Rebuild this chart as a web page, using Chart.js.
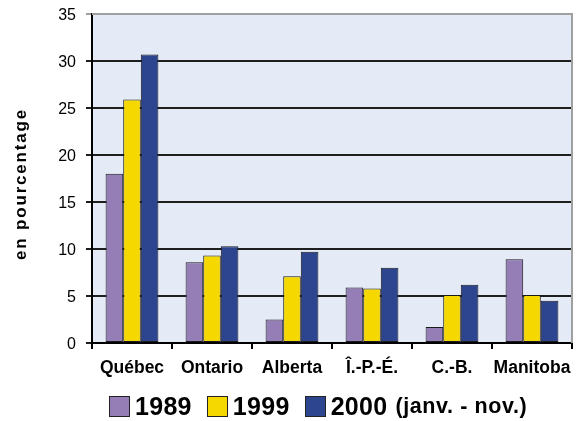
<!DOCTYPE html>
<html lang="fr">
<head>
<meta charset="utf-8">
<script src="https://cdn.jsdelivr.net/npm/chart.js@4"></script>
<style>
  html, body { margin: 0; padding: 0; background: #fff; }
  #wrap { position: relative; width: 579px; height: 421px; }
  #chart { position: absolute; left: 0; top: 0; }
  #legend {
    position: absolute; left: 109px; top: 392px; height: 28px;
    display: flex; align-items: center;
    font-family: "Liberation Sans", Arial, sans-serif; font-weight: bold; color: #000;
  }
  .item { display: flex; align-items: center; margin-right: 15px; }
  .box { width: 21px; height: 21px; box-sizing: border-box; border: 1px solid #222; margin-right: 5px; }
  .yr { font-size: 25px; line-height: 28px; letter-spacing: 0.3px; }
  .note { font-size: 21.5px; line-height: 28px; margin-left: 8px; letter-spacing: 0.6px; }
</style>
</head>
<body>
<div id="wrap">
  <canvas id="chart" width="579" height="421"></canvas>
  <div id="legend"></div>
</div>
<script>
// Provinces and percentages per period
const provinces = ['Québec', 'Ontario', 'Alberta', 'Î.-P.-É.', 'C.-B.', 'Manitoba'];
const values1989 = [18.0, 8.6, 2.5, 5.9, 1.7, 8.9];
const values1999 = [25.9, 9.3, 7.1, 5.8, 5.1, 5.1];
const values2000 = [30.7, 10.3, 9.7, 8.0, 6.2, 4.5];
const seriesLabels = ['1989', '1999', '2000 (janv. - nov.)'];
const seriesColors = ['#957DB6', '#F5D800', '#2D458F'];
const yTicks = [0, 5, 10, 15, 20, 25, 30, 35];
const yTitle = 'en pourcentage';

const FONT = '"Liberation Sans", Arial, sans-serif';

// Plot background, grey right border and rotated axis title
const decor = {
  id: 'decor',
  beforeDraw(chart) {
    const { ctx, chartArea: a } = chart;
    ctx.save();
    ctx.fillStyle = '#E4EBF6';
    ctx.fillRect(a.left, a.top, a.right - a.left, a.bottom - a.top);
    ctx.restore();
  },
  afterDatasetsDraw(chart) {
    const { ctx, chartArea: a } = chart;
    ctx.save();
    ctx.strokeStyle = '#A0A0A0';
    ctx.lineWidth = 2;
    ctx.beginPath();
    ctx.moveTo(a.left, a.top);
    ctx.lineTo(a.right, a.top);
    ctx.lineTo(a.right, a.bottom);
    ctx.stroke();
    ctx.restore();
  },
  afterDraw(chart) {
    const { ctx } = chart;
    ctx.save();
    ctx.translate(21, 184);
    ctx.rotate(-Math.PI / 2);
    ctx.font = 'bold 17px ' + FONT;
    ctx.letterSpacing = '1.8px';
    ctx.fillStyle = '#000';
    ctx.textAlign = 'center';
    ctx.textBaseline = 'middle';
    ctx.fillText(yTitle, 0, 0);
    ctx.restore();
  }
};

const datasets = [values1989, values1999, values2000].map((v, i) => ({
  label: seriesLabels[i],
  data: v,
  backgroundColor: seriesColors[i],
  borderColor: '#1a1a1a',
  borderWidth: 1,
  borderSkipped: false,
  categoryPercentage: 0.66,
  barPercentage: 1.0
}));

const chart = new Chart(document.getElementById('chart'), {
  type: 'bar',
  data: { labels: provinces, datasets },
  options: {
    responsive: false,
    animation: false,
    layout: { padding: { left: 0, right: 7, top: 14, bottom: 0 } },
    plugins: { legend: { display: false }, tooltip: { enabled: false } },
    scales: {
      x: {
        grid: { drawOnChartArea: false, drawTicks: true, tickLength: 6, color: '#000', lineWidth: 2, offset: true },
        border: { display: true, color: '#000', width: 2 },
        ticks: {
          autoSkip: false, maxRotation: 0, minRotation: 0, padding: 9,
          color: '#000', font: { family: FONT, size: 17.5, weight: 'bold' }
        },
        afterFit(s) { s.height = 78; s.paddingLeft = 0; s.paddingRight = 0; }
      },
      y: {
        min: 0, max: 35,
        afterBuildTicks(s) { s.ticks = yTicks.map(v => ({ value: v })); },
        grid: {
          color: c => (c.tick && c.tick.value === 35 ? '#A0A0A0' : '#1e1e1e'),
          lineWidth: 2, tickLength: 6, drawTicks: true
        },
        border: { display: true, color: '#000', width: 2 },
        ticks: { padding: 10, labelOffset: 2, color: '#000', font: { family: FONT, size: 16 } },
        afterFit(s) { s.width = 92; s.paddingTop = 0; s.paddingBottom = 0; }
      }
    }
  },
  plugins: [decor]
});

// Legend built from the datasets
const legend = document.getElementById('legend');
chart.data.datasets.forEach(ds => {
  const item = document.createElement('div');
  item.className = 'item';
  const box = document.createElement('span');
  box.className = 'box';
  box.style.background = ds.backgroundColor;
  item.appendChild(box);
  const sp = ds.label.indexOf(' ');
  const yr = document.createElement('span');
  yr.className = 'yr';
  yr.textContent = sp < 0 ? ds.label : ds.label.slice(0, sp);
  item.appendChild(yr);
  if (sp >= 0) {
    const note = document.createElement('span');
    note.className = 'note';
    note.textContent = ds.label.slice(sp + 1);
    item.appendChild(note);
  }
  legend.appendChild(item);
});
</script>
</body>
</html>
